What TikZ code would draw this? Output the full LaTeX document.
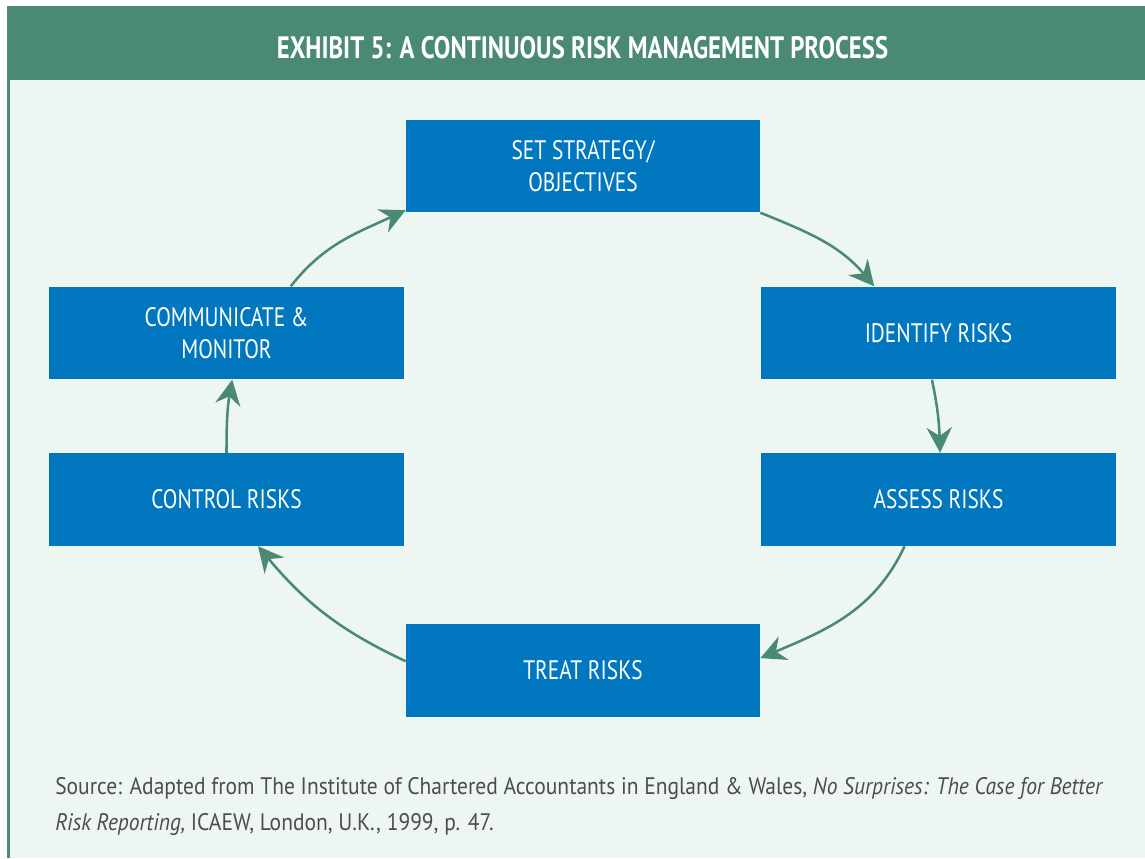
\documentclass[tikz,border=0pt]{standalone}
\usepackage{fontspec}
\setmainfont[FakeStretch=0.8]{PT Sans}
\newfontfamily\srcfont[FakeStretch=0.9]{PT Sans}
\usetikzlibrary{arrows.meta}
\definecolor{exgreen}{HTML}{4A8A73}
\definecolor{exlight}{HTML}{EEF6F1}
\definecolor{exblue}{HTML}{0077BF}
\definecolor{exgray}{HTML}{4D4D4D}
\tikzset{
    stage/.style={fill=exblue, text=white, minimum width=8.85cm, minimum height=2.32cm,
        align=center, inner sep=0pt, font=\fontsize{19}{22.5}\selectfont},
    flow/.style={exgreen, line width=1.8pt, -{Stealth[length=18pt, width=18pt, inset=6pt]}}
}
\begin{document}
\begin{tikzpicture}[x=0.025cm, y=-0.025cm]
        \useasboundingbox (0,0) rectangle (1145,858);
        \fill[white] (0,0) rectangle (1145,858);
        \fill[exlight] (7,80) rectangle (1145,858);
        \fill[exgreen] (7,6) rectangle (1145,80);
        \fill[exgreen] (7,80) rectangle (10,858);

        \node[text=white, font=\bfseries\fontsize{22}{24}\selectfont] (title) at (582.5,48)
            {EXHIBIT 5: A CONTINUOUS RISK MANAGEMENT PROCESS};

        \node[stage] (set) at (583,166) {SET STRATEGY/\\OBJECTIVES};
        \node[stage] (ident) at (938.5,333) {IDENTIFY RISKS};
        \node[stage] (assess) at (938.5,499.5) {ASSESS RISKS};
        \node[stage] (treat) at (583,670.5) {TREAT RISKS};
        \node[stage] (control) at (226.5,499.5) {CONTROL RISKS};
        \node[stage] (comm) at (226.5,333) {COMMUNICATE \&\\MONITOR};

        \draw[flow] (set.south east) to[out=-22, in=130] (ident.144);
        \draw[flow] (ident.-98) to[out=-78, in=92] (assess.88);
        \draw[flow] (assess.-126) to[out=-115, in=23] (treat.4);
        \draw[flow] (treat.177) to[out=155, in=-50] (control.-56);
        \draw[flow] (control.north) to[out=90, in=-100] (comm.-83);
        \draw[flow] (comm.36) to[out=52, in=205] (set.194);

        \node[anchor=north west, align=left, text=exgray, inner sep=0pt,
            font=\srcfont\fontsize{17}{25.5}\selectfont] (source) at (55,777)
            {Source: Adapted from The Institute of Chartered Accountants in England \& Wales, \textit{No Surprises: The Case for Better}\\
             \textit{Risk Reporting,} ICAEW, London, U.K., 1999, p. 47.};
\end{tikzpicture}
\end{document}
